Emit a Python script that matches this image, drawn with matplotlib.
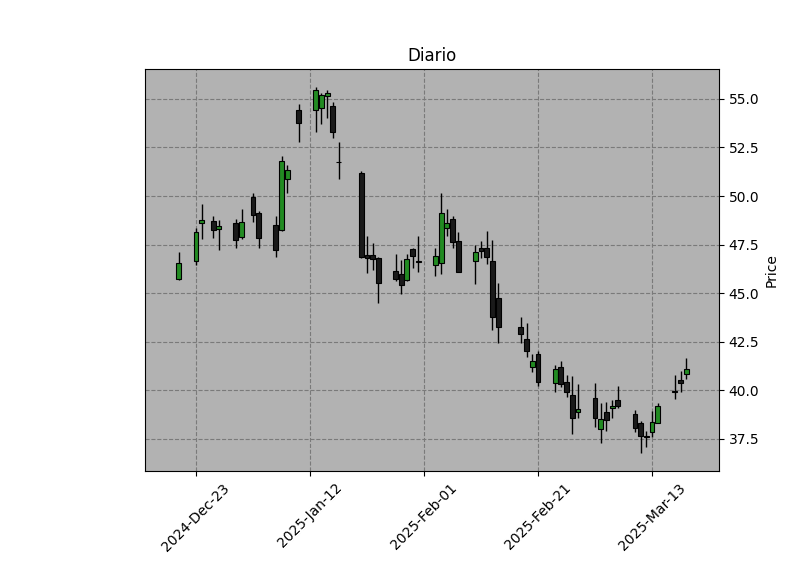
import numpy as np
import pandas as pd
import matplotlib
matplotlib.use('Agg')
import matplotlib.pyplot as plt
import matplotlib.dates as mdates

dates = pd.to_datetime([
    '2024-12-20', '2024-12-23', '2024-12-24', '2024-12-26', '2024-12-27',
    '2024-12-30', '2024-12-31', '2025-01-02', '2025-01-03', '2025-01-06',
    '2025-01-07', '2025-01-08', '2025-01-10', '2025-01-13', '2025-01-14',
    '2025-01-15', '2025-01-16', '2025-01-17', '2025-01-21', '2025-01-22',
    '2025-01-23', '2025-01-24', '2025-01-27', '2025-01-28', '2025-01-29',
    '2025-01-30', '2025-01-31', '2025-02-03', '2025-02-04', '2025-02-05',
    '2025-02-06', '2025-02-07', '2025-02-10', '2025-02-11', '2025-02-12',
    '2025-02-13', '2025-02-14', '2025-02-18', '2025-02-19', '2025-02-20',
    '2025-02-21', '2025-02-24', '2025-02-25', '2025-02-26', '2025-02-27',
    '2025-02-28', '2025-03-03', '2025-03-04', '2025-03-05', '2025-03-06',
    '2025-03-07', '2025-03-10', '2025-03-11', '2025-03-12', '2025-03-13',
    '2025-03-14', '2025-03-17', '2025-03-18', '2025-03-19',
])
opens = [45.74, 46.65, 48.60, 48.71, 48.29, 48.60, 47.91, 49.96, 49.12, 48.50,
         48.24, 50.87, 54.43, 54.42, 54.52, 55.15, 54.64, 51.75, 51.18, 46.96,
         46.96, 46.80, 46.15, 46.01, 45.67, 47.26, 46.65, 46.44, 46.54, 48.35,
         48.81, 47.69, 46.68, 47.31, 47.31, 46.66, 44.74, 43.25, 42.63, 41.22,
         41.86, 40.37, 41.19, 40.42, 39.77, 38.91, 39.59, 38.00, 38.89, 39.08,
         39.51, 38.79, 38.32, 37.63, 37.85, 38.31, 39.95, 40.52, 40.85]
highs = [47.14, 48.35, 49.58, 48.95, 48.77, 48.81, 49.32, 50.15, 49.24, 48.99,
         52.07, 51.59, 54.73, 55.60, 55.32, 55.45, 54.86, 52.80, 51.28, 47.92,
         47.57, 46.88, 47.02, 46.71, 47.02, 47.33, 47.97, 47.31, 50.15, 49.32,
         48.99, 48.17, 47.49, 47.71, 48.22, 47.74, 45.55, 43.80, 43.49, 41.87,
         42.05, 41.31, 41.53, 40.80, 40.74, 40.31, 40.36, 39.34, 39.39, 39.51,
         40.20, 38.99, 38.43, 37.93, 38.94, 39.34, 40.79, 41.02, 41.65]
lows = [45.68, 46.44, 47.78, 47.83, 47.22, 47.33, 47.78, 48.69, 47.32, 46.88,
        48.20, 50.15, 52.77, 53.29, 53.70, 54.04, 52.98, 50.88, 46.83, 46.06,
        46.20, 44.52, 45.63, 44.96, 45.65, 46.29, 46.10, 45.89, 45.98, 47.95,
        47.31, 46.08, 45.48, 46.80, 46.51, 43.11, 42.43, 42.43, 41.74, 40.97,
        40.24, 39.91, 40.19, 39.68, 37.76, 38.57, 38.13, 37.28, 37.91, 38.57,
        39.08, 37.86, 36.77, 37.07, 37.62, 38.30, 39.54, 39.93, 40.59]
closes = [46.54, 48.14, 48.76, 48.24, 48.48, 47.73, 48.69, 49.01, 47.86, 47.21,
          51.81, 51.35, 53.75, 55.45, 55.19, 55.32, 53.32, 51.73, 46.85, 46.80,
          46.75, 45.51, 45.72, 45.41, 46.78, 46.94, 46.62, 46.94, 49.12, 48.60,
          47.66, 46.11, 47.11, 47.19, 46.88, 43.76, 43.25, 42.89, 42.01, 41.53,
          40.42, 41.09, 40.32, 39.94, 38.60, 39.03, 38.57, 38.53, 38.46, 39.18,
          39.22, 38.04, 37.67, 37.60, 38.38, 39.20, 39.92, 40.37, 41.09]

x = mdates.date2num(dates)
o = np.array(opens)
h = np.array(highs)
l = np.array(lows)
c = np.array(closes)
up = c >= o
colors = np.where(up, '#228b22', '#1a1a1a')

fig = plt.figure(figsize=(8, 5.75), dpi=100)
ax = fig.add_axes([0.18125, 0.1809, 0.7175, 0.6991])
ax.set_facecolor('#b2b2b2')

ax.vlines(x, l, h, color='black', linewidth=1, zorder=2)
ax.bar(x, np.abs(c - o), bottom=np.minimum(o, c), width=0.85,
       color=colors, edgecolor='black', linewidth=0.8, zorder=3)

ax.grid(True, linestyle='--', color='#7a7a7a', linewidth=0.8, zorder=0)
ax.set_axisbelow(True)

ref = mdates.date2num(pd.Timestamp('2024-12-23'))
ax.set_xlim(ref - 8.95, ref + 91.75)
ax.set_ylim(35.85, 56.54)

ax.xaxis.set_major_locator(mdates.DayLocator(bymonthday=None, interval=20))
ticks = pd.date_range('2024-12-23', periods=5, freq='20D')
ax.set_xticks(mdates.date2num(ticks))
ax.xaxis.set_major_formatter(mdates.DateFormatter('%Y-%b-%d'))
plt.setp(ax.get_xticklabels(), rotation=45, ha='center')

ax.yaxis.tick_right()
ax.yaxis.set_label_position('right')
ax.set_yticks([37.5, 40.0, 42.5, 45.0, 47.5, 50.0, 52.5, 55.0])
ax.set_ylabel('Price')
ax.set_title('Diario')

fig.savefig('out.png', dpi=100)
plt.close(fig)
